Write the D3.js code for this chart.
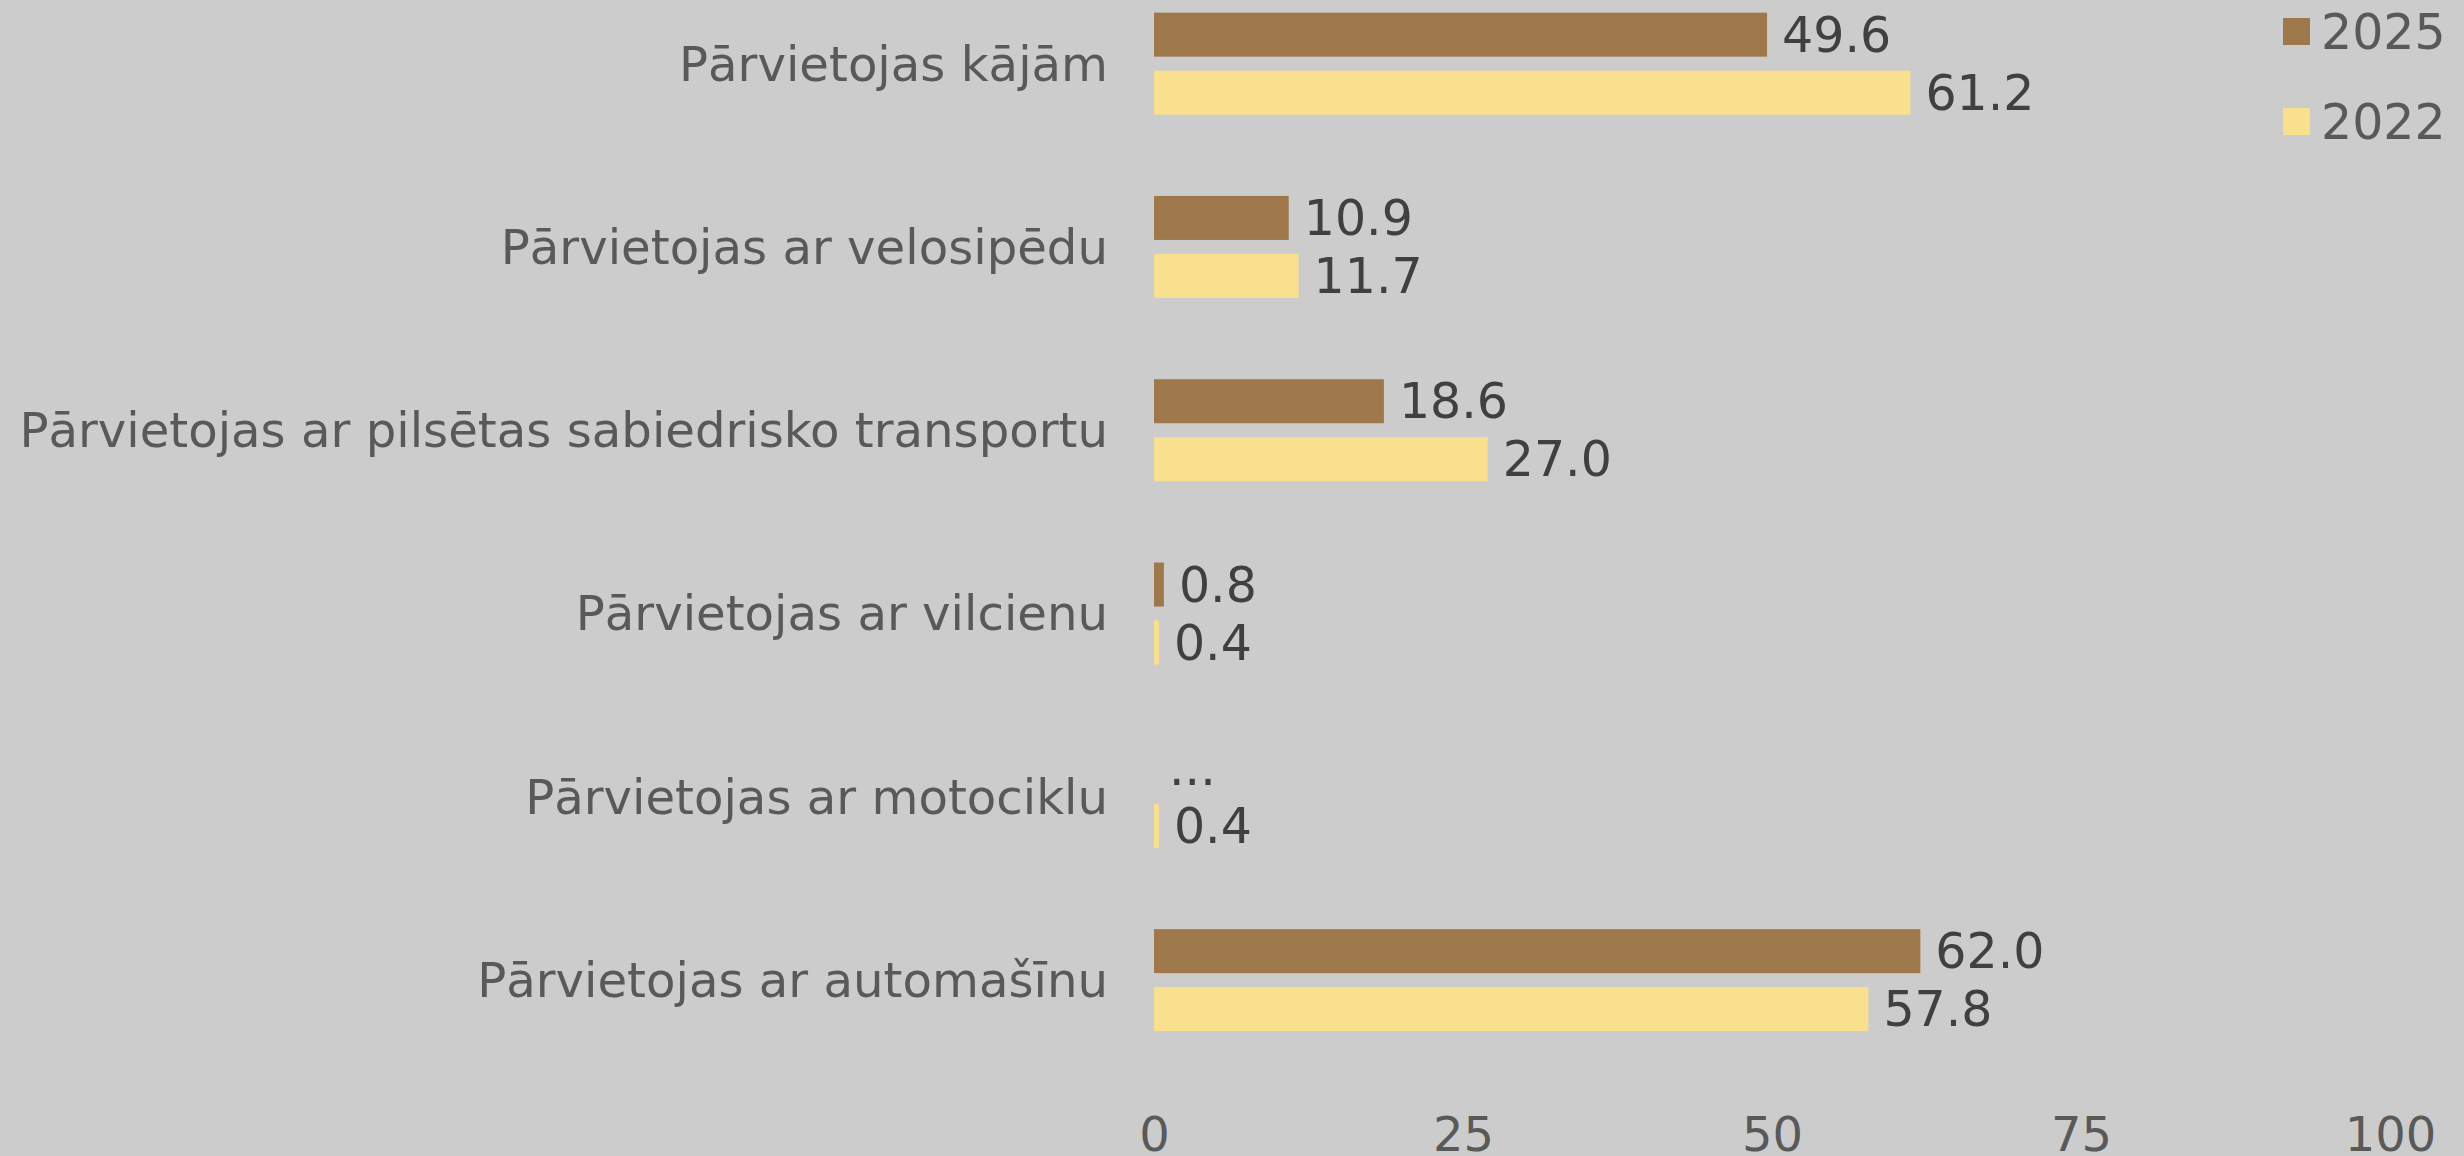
<!DOCTYPE html>
<html>
<head>
<meta charset="utf-8">
<script src="https://cdn.jsdelivr.net/npm/d3@7"></script>
<style>
  html, body { margin: 0; padding: 0; background: #cccccc; }
  svg { display: block; }
  text { font-family: "DejaVu Sans", Verdana, sans-serif; }
</style>
</head>
<body>
<svg id="chart" width="2464" height="1156"></svg>
<script>
const categories = [
  "Pārvietojas kājām",
  "Pārvietojas ar velosipēdu",
  "Pārvietojas ar pilsētas sabiedrisko transportu",
  "Pārvietojas ar vilcienu",
  "Pārvietojas ar motociklu",
  "Pārvietojas ar automašīnu"
];
const seriesNames = ["2025", "2022"];
const values2025 = [49.6, 10.9, 18.6, 0.8, null, 62.0];
const values2022 = [61.2, 11.7, 27.0, 0.4, 0.4, 57.8];
const tickValues = [0, 25, 50, 75, 100];
const colors = ["#9e784b", "#f9e08e"];

const seriesValues = [values2025, values2022];
const rows = categories.map((c, i) => ({
  category: c,
  bars: seriesNames.map((s, j) => ({ series: s, value: seriesValues[j][i] }))
}));

const svg = d3.select("#chart");
const W = 2464, H = 1156;
svg.append("rect").attr("width", W).attr("height", H).attr("fill", "#cccccc");

const x = d3.scaleLinear().domain([0, 100]).range([1154, 2390]);
const y = d3.scaleBand().domain(categories).range([-28, 1071.8]).paddingInner(0).paddingOuter(0);
const ySub = d3.scaleBand().domain(seriesNames).range([y.bandwidth() / 2 - 51, y.bandwidth() / 2 + 51]).paddingInner(0.2414).paddingOuter(0);
const color = d3.scaleOrdinal().domain(seriesNames).range(colors);

const FS_CAT = 48.2, FS_VAL = 49, FS_TICK = 48;

// category labels
svg.append("g").selectAll("text").data(categories).join("text")
  .attr("x", 1108)
  .attr("y", d => y(d) + y.bandwidth() / 2)
  .attr("dy", "0.35em")
  .attr("text-anchor", "end")
  .attr("font-size", FS_CAT)
  .attr("fill", "#595959")
  .text(d => d);

const groups = svg.append("g").selectAll("g").data(rows).join("g")
  .attr("transform", d => `translate(0,${y(d.category)})`);

groups.selectAll("rect").data(d => d.bars.filter(b => b.value != null)).join("rect")
  .attr("x", x(0))
  .attr("y", d => ySub(d.series))
  .attr("width", d => x(d.value) - x(0))
  .attr("height", ySub.bandwidth())
  .attr("fill", d => color(d.series));

groups.selectAll("text").data(d => d.bars).join("text")
  .attr("x", d => x(d.value == null ? 0 : d.value) + 15)
  .attr("y", d => ySub(d.series) + ySub.bandwidth() / 2)
  .attr("dy", "0.35em")
  .attr("font-size", FS_VAL)
  .attr("fill", "#404040")
  .text(d => d.value == null ? "..." : d.value.toFixed(1));

// x axis
const axis = svg.append("g")
  .attr("transform", "translate(0,1117)")
  .call(d3.axisBottom(x).tickValues(tickValues).tickSize(0).tickPadding(0).tickFormat(d3.format("d")));
axis.select(".domain").remove();
axis.selectAll("text")
  .attr("font-size", FS_TICK)
  .attr("font-family", "DejaVu Sans, Verdana, sans-serif")
  .attr("fill", "#595959")
  .attr("dy", "0.71em");

// legend
const legend = svg.append("g").selectAll("g").data(seriesNames).join("g")
  .attr("transform", (d, i) => `translate(2283,${18 + i * 90})`);
legend.append("rect").attr("width", 27).attr("height", 27).attr("fill", d => color(d));
legend.append("text")
  .attr("x", 38).attr("y", 13.5).attr("dy", "0.35em")
  .attr("font-size", FS_VAL).attr("fill", "#595959")
  .text(d => d);
</script>
</body>
</html>
